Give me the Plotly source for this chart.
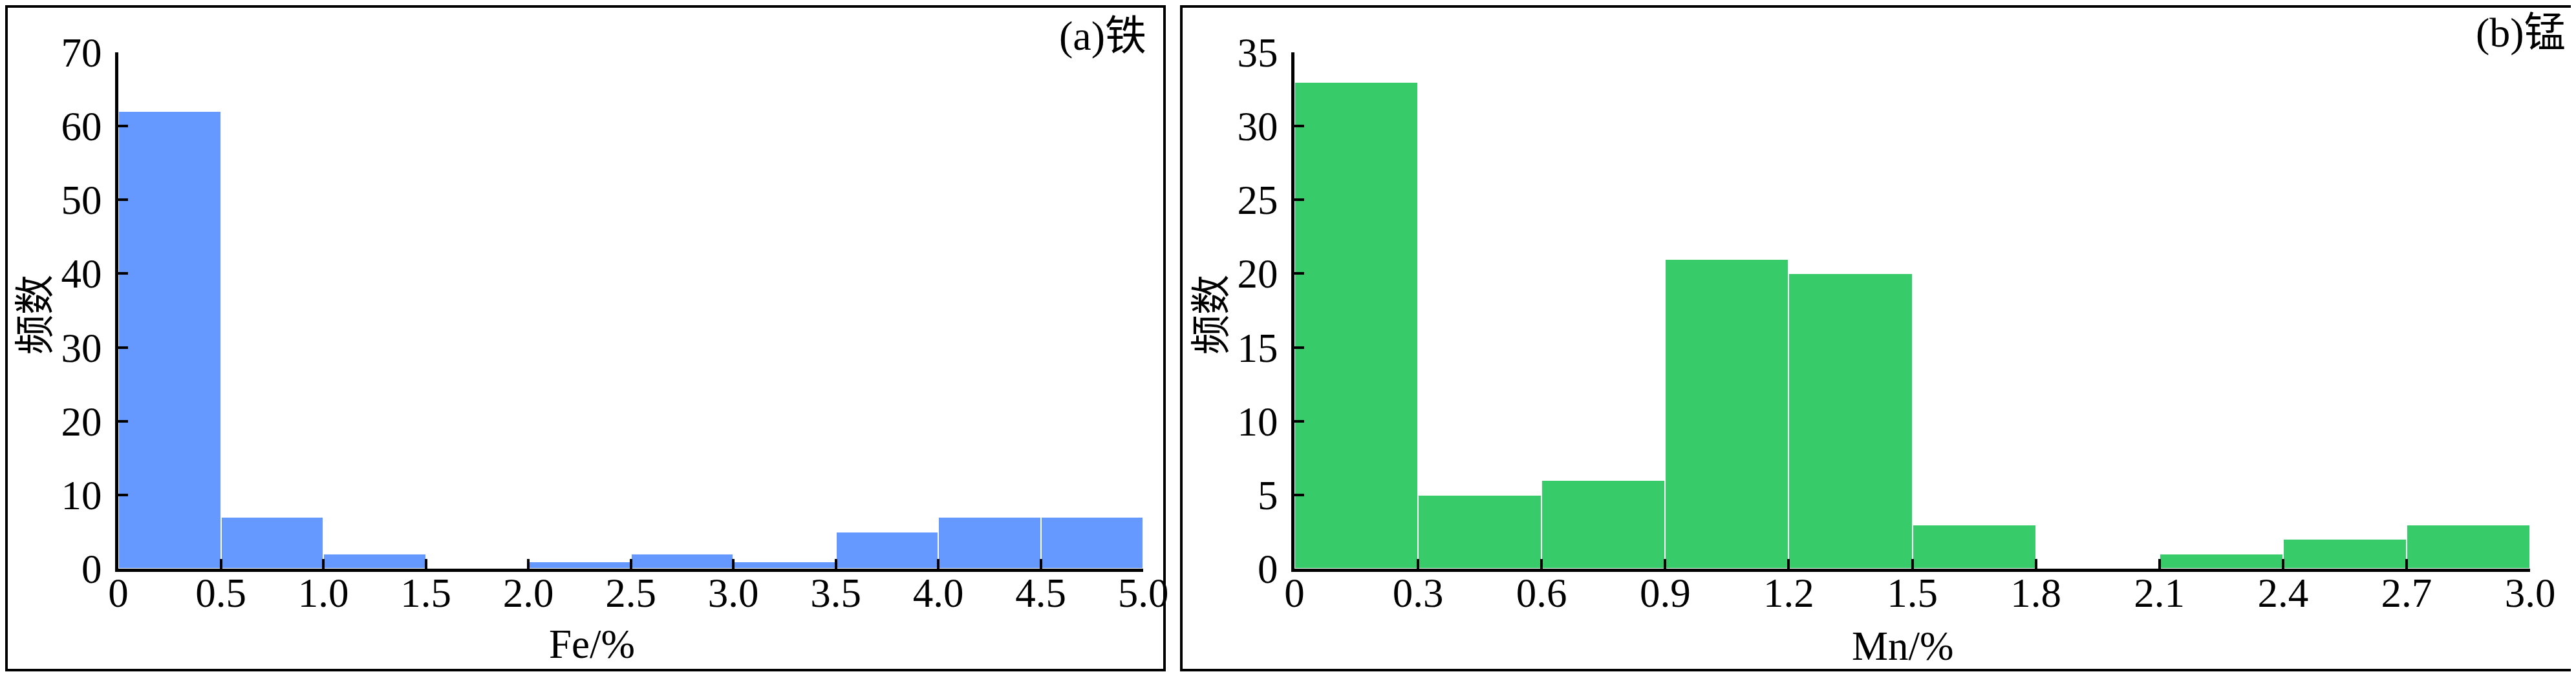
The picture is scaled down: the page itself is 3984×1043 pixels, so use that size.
import plotly.graph_objects as go

# --- data ---
fe_bin_start = [0.0, 0.5, 1.0, 1.5, 2.0, 2.5, 3.0, 3.5, 4.0, 4.5]
fe_counts = [62, 7, 2, 0, 1, 2, 1, 5, 7, 7]
fe_ticks = [0, 0.5, 1.0, 1.5, 2.0, 2.5, 3.0, 3.5, 4.0, 4.5, 5.0]
fe_tick_text = ["0", "0.5", "1.0", "1.5", "2.0", "2.5", "3.0", "3.5", "4.0", "4.5", "5.0"]

mn_bin_start = [0.0, 0.3, 0.6, 0.9, 1.2, 1.5, 1.8, 2.1, 2.4, 2.7]
mn_counts = [33, 5, 6, 21, 20, 3, 0, 1, 2, 3]
mn_ticks = [0, 0.3, 0.6, 0.9, 1.2, 1.5, 1.8, 2.1, 2.4, 2.7, 3.0]
mn_tick_text = ["0", "0.3", "0.6", "0.9", "1.2", "1.5", "1.8", "2.1", "2.4", "2.7", "3.0"]

# page body keeps its default 8px margin, so the figure is made that much smaller
BODY = 8
W, H = 3984 - BODY, 1043 - BODY
FONT = "Liberation Serif, Times New Roman, Noto Sans CJK SC, serif"


def px_x(p):
    # screen pixel -> paper fraction
    return (p - BODY) / W


def px_y(p):
    return 1 - (p - BODY) / H


fig = go.Figure()
fig.add_trace(go.Bar(x=fe_bin_start, y=fe_counts, width=0.5, offset=0,
                     marker=dict(color="#6699FF", line=dict(color="white", width=2)),
                     xaxis="x", yaxis="y", showlegend=False))
fig.add_trace(go.Bar(x=mn_bin_start, y=mn_counts, width=0.3, offset=0,
                     marker=dict(color="#37CC69", line=dict(color="white", width=2)),
                     xaxis="x2", yaxis="y2", showlegend=False))

axis_common = dict(showline=True, linecolor="black", linewidth=5, ticks="inside",
                   ticklen=15, tickwidth=4, tickcolor="black", showgrid=False,
                   zeroline=False, automargin=False,
                   tickfont=dict(family=FONT, size=63, color="black"))

y_dom = [px_y(880), px_y(81)]
fig.update_layout(
    width=W, height=H, autosize=False,
    margin=dict(l=0, r=0, t=0, b=0, pad=0),
    paper_bgcolor="white", plot_bgcolor="white",
    bargap=0,
    xaxis=dict(domain=[px_x(183), px_x(1768)], range=[0, 5], anchor="y",
               tickvals=fe_ticks, ticktext=fe_tick_text, ticklabelstandoff=-22, **axis_common),
    yaxis=dict(domain=y_dom, range=[0, 70], anchor="x", dtick=10, tick0=0,
               ticklabelstandoff=8, **axis_common),
    xaxis2=dict(domain=[px_x(2002), px_x(3913)], range=[0, 3.0], anchor="y2",
                tickvals=mn_ticks, ticktext=mn_tick_text, ticklabelstandoff=-22, **axis_common),
    yaxis2=dict(domain=y_dom, range=[0, 35], anchor="x2", dtick=5, tick0=0,
                ticklabelstandoff=8, **axis_common),
)

# panel frames
for x0, x1 in [(10, 1801), (1827, 3978)]:
    fig.add_shape(type="rect", xref="paper", yref="paper",
                  x0=px_x(x0), x1=px_x(x1), y0=px_y(1037), y1=px_y(10),
                  line=dict(color="black", width=4), fillcolor="rgba(0,0,0,0)")

notes = [
    ("(a)铁", 1775, 55, "right", 0, 64),
    ("(b)锰", 3970, 50, "right", 0, 64),
    ("Fe/%", 915, 997, "center", 0, 63),
    ("Mn/%", 2943, 1000, "center", 0, 63),
    ("频数", 55, 487, "center", -90, 62),
    ("频数", 1874, 487, "center", -90, 62),
]
for text, x, y, xa, ang, size in notes:
    fig.add_annotation(text=text, x=px_x(x), y=px_y(y), xref="paper", yref="paper",
                       xanchor=xa, yanchor="middle", textangle=ang, showarrow=False,
                       font=dict(family=FONT, size=size, color="black"))

fig.write_html("out.html")
